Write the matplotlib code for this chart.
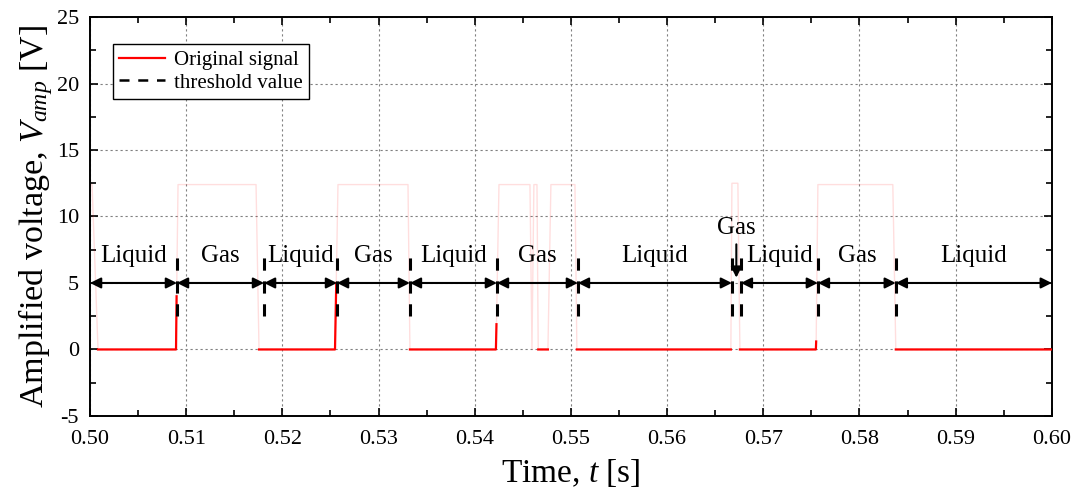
import numpy as np
import matplotlib
matplotlib.use('Agg')
import matplotlib.pyplot as plt
from matplotlib.ticker import MultipleLocator

plt.rcParams['font.family'] = ['Liberation Serif', 'DejaVu Serif']
plt.rcParams['mathtext.fontset'] = 'custom'
plt.rcParams['mathtext.rm'] = 'Liberation Serif'
plt.rcParams['mathtext.it'] = 'Liberation Serif:italic'
plt.rcParams['axes.unicode_minus'] = False

# signal breakpoints (time [s], voltage [V])
sig_t = [0.5000, 0.50021, 0.50083, 0.50894, 0.50900, 0.50915, 0.51726, 0.51757,
         0.52547, 0.52560, 0.52578, 0.53306, 0.53326, 0.54220, 0.54226, 0.54252,
         0.54574, 0.54595, 0.54615, 0.54647, 0.54660, 0.54730, 0.54761, 0.54792,
         0.55042, 0.55062, 0.56663, 0.56674, 0.56736, 0.56757, 0.57547, 0.57550,
         0.57568, 0.58347, 0.58378, 0.6000]
sig_v = [12.4, 12.4, 0.0, 0.0, 4.0, 12.4, 12.4, 0.0,
         0.0, 5.0, 12.4, 12.4, 0.0, 0.0, 1.9, 12.4,
         12.4, 0.0, 12.4, 12.4, 0.0, 0.0, 0.0, 12.4,
         12.4, 0.0, 0.0, 12.5, 12.5, 0.0, 0.0, 0.6,
         12.4, 12.4, 0.0, 0.0]

# threshold crossings (dashed markers)
thr_t = [0.50904, 0.51809, 0.52568, 0.53326, 0.54231, 0.55073,
         0.56674, 0.56767, 0.57568, 0.58378]
thr_lo, thr_hi = 2.5, 7.6

# phase regions between crossings
phase_start = [0.500, 0.50904, 0.51809, 0.52568, 0.53326, 0.54231, 0.55073, 0.56767, 0.57568, 0.58378]
phase_end = [0.50904, 0.51809, 0.52568, 0.53326, 0.54231, 0.55073, 0.56674, 0.57568, 0.58378, 0.600]
phase_name = ['Liquid', 'Gas', 'Liquid', 'Gas', 'Liquid', 'Gas', 'Liquid', 'Liquid', 'Gas', 'Liquid']
arrow_y = 5.0

gas_spike_t = 0.56720
gas_spike_label = 'Gas'

fig = plt.figure(figsize=(10.77, 4.94), dpi=100)
ax = fig.add_axes([0.0836, 0.158, 0.893, 0.8075])

t = np.array(sig_t)
v = np.array(sig_v)
# high level drawn very faint, low level solid red
ax.plot(t, v, color='red', lw=1.0, alpha=0.13, zorder=2)
v_low = np.where(v <= 5.0, v, np.nan)
ax.plot(t, v_low, color='red', lw=1.6, zorder=3, label='Original signal')

ax.vlines(thr_t, thr_lo, thr_hi, colors='black', linestyles=(0, (4, 3.5)), lw=2.2, zorder=4)
ax.plot([], [], color='black', ls=(0, (4, 3.5)), lw=1.8, label='threshold value')

for s, e, name in zip(phase_start, phase_end, phase_name):
    ax.annotate('', xy=(e, arrow_y), xytext=(s, arrow_y),
                arrowprops=dict(arrowstyle='<|-|>', color='black', lw=1.5,
                                mutation_scale=16, shrinkA=0, shrinkB=0), zorder=5)
    ax.text((s + e) / 2, 6.6, name, ha='center', va='baseline', fontsize=18, zorder=6)

ax.annotate(gas_spike_label, xy=(gas_spike_t, 5.4), xytext=(gas_spike_t, 8.7),
            ha='center', va='baseline', fontsize=18,
            arrowprops=dict(arrowstyle='-|>', color='black', lw=1.5,
                            mutation_scale=16, shrinkA=2, shrinkB=0), zorder=6)

ax.set_xlim(0.50, 0.60)
ax.set_ylim(-5, 25)
ax.xaxis.set_major_locator(MultipleLocator(0.01))
ax.xaxis.set_minor_locator(MultipleLocator(0.005))
ax.yaxis.set_major_locator(MultipleLocator(5))
ax.yaxis.set_minor_locator(MultipleLocator(2.5))
ax.xaxis.set_major_formatter(plt.FuncFormatter(lambda x, p: '%.2f' % x))
ax.tick_params(which='both', direction='in', top=True, right=True, labelsize=16, width=1.2)
ax.tick_params(which='major', length=6)
ax.tick_params(axis='x', which='major', pad=10)
ax.tick_params(axis='y', which='major', pad=8)
ax.tick_params(which='minor', length=4)
for sp in ax.spines.values():
    sp.set_linewidth(1.4)
ax.grid(True, which='major', color='gray', ls=(0, (2, 2.5)), lw=0.8)

ax.set_xlabel('Time, $t$ [s]', fontsize=24, labelpad=6)
ax.set_ylabel('Amplified voltage, $V_{amp}$ [V]', fontsize=24.5, labelpad=1)

leg = ax.legend(loc='upper left', bbox_to_anchor=(0.024, 0.932), fontsize=15,
                fancybox=False, framealpha=1, edgecolor='black', handlelength=2.2,
                borderpad=0.3, labelspacing=0.15, handletextpad=0.4, borderaxespad=0)
leg.get_frame().set_linewidth(1.0)

fig.savefig('out.png', dpi=100)
